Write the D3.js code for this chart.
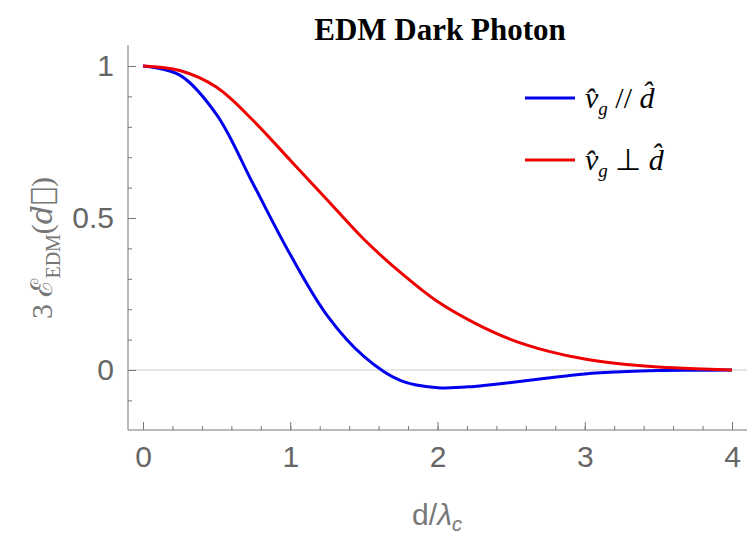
<!DOCTYPE html><html><head><script src="https://cdn.jsdelivr.net/npm/d3@7"></script>
<style>body{margin:0;background:#fff}</style></head><body><svg id="c" width="747" height="547"></svg>
<script>
const xs=[0,0.25,0.5,0.75,1,1.25,1.5,1.75,2,2.25,2.5,2.75,3,3.25,3.5,3.75,4];
const parallel=[1,0.97,0.84,0.61,0.38,0.18,0.045,-0.035,-0.058,-0.054,-0.041,-0.026,-0.013,-0.006,-0.002,-0.001,0];
const perp=[1,0.985,0.93,0.82,0.69,0.56,0.43,0.32,0.225,0.155,0.1,0.062,0.036,0.02,0.01,0.004,0];
const xTicks=[0,1,2,3,4], yTicks=[0,0.5,1];
const svg=d3.select("#c");
const x=d3.scaleLinear().domain([0,4]).range([143,732]);
const y=d3.scaleLinear().domain([0,1]).range([370,66]);
const gray="#777";
svg.append("line").attr("x1",128).attr("x2",747).attr("y1",y(0)).attr("y2",y(0)).attr("stroke","#ccc");
const ga=svg.append("g").attr("transform","translate(0,430)").call(d3.axisBottom(x).tickValues(xTicks).tickSizeOuter(0).tickSize(-8).tickPadding(16).tickFormat(d3.format("d")));
svg.append("g").attr("transform","translate(0,430)").call(d3.axisBottom(x).tickValues(d3.range(0,4.01,0.2)).tickSize(-4).tickFormat("")).select(".domain").remove();
const gb=svg.append("g").attr("transform","translate(128,0)").call(d3.axisLeft(y).tickValues(yTicks).tickSize(-8).tickPadding(14).tickFormat(d=>d===0.5?"0.5":d3.format("d")(d)));
svg.append("g").attr("transform","translate(128,0)").call(d3.axisLeft(y).tickValues(d3.range(-0.1,1.01,0.1)).tickSize(-4).tickFormat("")).select(".domain").remove();
svg.selectAll(".domain").attr("stroke",gray);
svg.selectAll(".tick line").attr("stroke",gray);
svg.selectAll(".tick text").attr("fill","#666").style("font-family","Liberation Sans, Arial").style("font-size","30px");
gb.select(".domain").attr("d","M0,45V430");
ga.select(".domain").attr("d",`M128,0H747`);
const line=d3.line().x((d,i)=>x(xs[i])).y(d=>y(d)).curve(d3.curveCatmullRom.alpha(0.5));
svg.append("path").attr("d",line(parallel)).attr("fill","none").attr("stroke","#0000ee").attr("stroke-width",3);
svg.append("path").attr("d",line(perp)).attr("fill","none").attr("stroke","#ee0000").attr("stroke-width",3);
svg.append("text").attr("x",440).attr("y",40).attr("text-anchor","middle").style("font-family","Liberation Serif").style("font-weight","bold").style("font-size","31px").text("EDM Dark Photon");
const yl=svg.append("text").attr("transform","translate(52,248) rotate(-90)").attr("text-anchor","middle").attr("fill","#777").style("font-family","Liberation Serif").style("font-size","30px");
yl.append("tspan").text("3 ℰ");
yl.append("tspan").attr("dy",8).style("font-size","20px").text("EDM");
yl.append("tspan").attr("dy",-8).text("(");
yl.append("tspan").style("font-family","DejaVu Serif").style("font-style","italic").text("d\u20D7");
yl.append("tspan").text(")");
const xl=svg.append("text").attr("x",437).attr("y",525).attr("text-anchor","middle").attr("fill","#777").style("font-family","Liberation Sans").style("font-size","30px");
xl.append("tspan").text("d/");xl.append("tspan").style("font-style","italic").text("λ");xl.append("tspan").attr("dy",6).style("font-size","20px").style("font-style","italic").text("c");
const leg=[["#0000ee","//"],["#ee0000","⊥"]];
leg.forEach((l,i)=>{const yy=98+i*62;
svg.append("line").attr("x1",525).attr("x2",575).attr("y1",yy).attr("y2",yy).attr("stroke",l[0]).attr("stroke-width",3);
const t=svg.append("text").attr("x",585).attr("y",yy+10).style("font-family","Liberation Serif").style("font-size","30px").style("font-style","italic");
t.append("tspan").text("v̂");t.append("tspan").attr("dy",7).style("font-size","19px").text("g");
t.append("tspan").attr("dy",-7).style("font-style","normal").text(" "+l[1]+" ");t.append("tspan").text("d̂");});
</script></body></html>
